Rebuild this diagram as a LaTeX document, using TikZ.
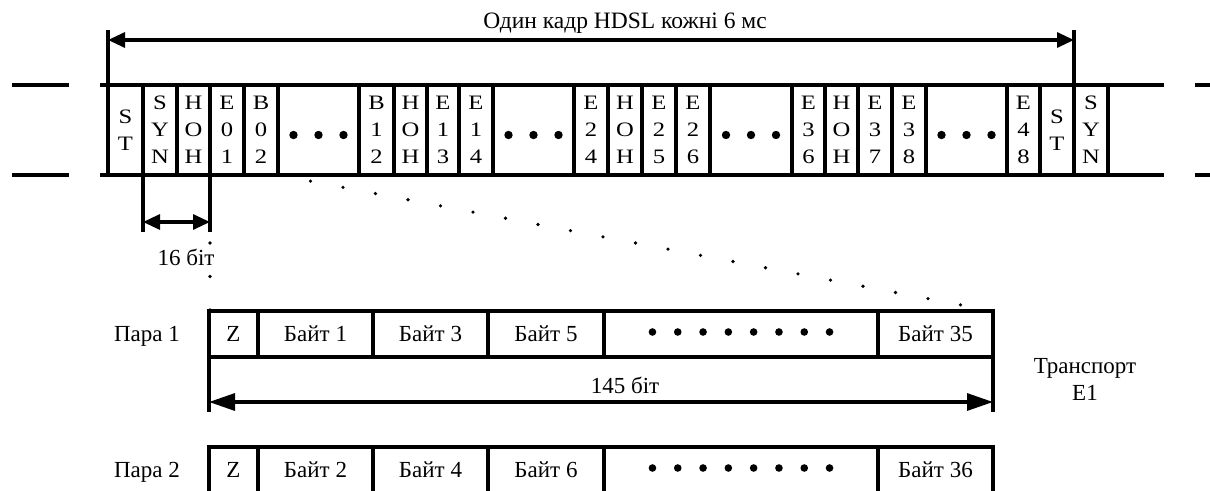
\documentclass[tikz,border=0pt]{standalone}
\usepackage{fontspec}
\setmainfont{Liberation Serif}
\newfontfamily\cellfont[FakeStretch=1.2]{Liberation Serif}
\usetikzlibrary{arrows.meta,calc}
\newcommand\mkcell[4]{\node[cellbox, minimum width={#3-#2}] (#1) at ({(#2+#3)/2},130) {#4};}
\newcommand\mkbyte[5]{\node[bytebox, minimum width={#3-#2}] (#1) at ({(#2+#3)/2},#4) {#5};}
\tikzset{
  thickline/.style={line width=3.2pt},
  cellbox/.style={draw, line width=3.2pt, inner sep=0pt, outer sep=0pt, minimum height=90, align=center,
    font=\cellfont\fontsize{20.5}{27}\selectfont},
  bytebox/.style={draw, line width=3.2pt, inner sep=0pt, outer sep=0pt, minimum height=46,
    font=\fontsize{23}{27}\selectfont},
  lbl/.style={inner sep=0pt, outer sep=0pt, font=\fontsize{23}{27}\selectfont},
  dimarrow/.style={line width=3.2pt, {Triangle[length=17pt,width=15pt]}-{Triangle[length=17pt,width=15pt]}},
  bigarrow/.style={line width=3.2pt, {Triangle[length=26pt,width=17pt]}-{Triangle[length=26pt,width=17pt]}},
  smalldot/.style={fill=black},
  bigdot/.style={fill=black}
}
\begin{document}
\begin{tikzpicture}[x=1pt,y=-1pt]
\useasboundingbox (0,0) rectangle (1210,490);
\clip (0,0) rectangle (1210,490);
% frame cells
\mkcell{c1}{108}{143}{S\\T}
\mkcell{c2}{143}{177}{S\\Y\\N}
\mkcell{c3}{177}{210}{H\\O\\H}
\mkcell{c4}{210}{244}{E\\0\\1}
\mkcell{c5}{244}{278}{B\\0\\2}
\mkcell{c6}{278}{359}{}
\mkcell{c7}{359}{394}{B\\1\\2}
\mkcell{c8}{394}{427}{H\\O\\H}
\mkcell{c9}{427}{459}{E\\1\\3}
\mkcell{c10}{459}{493}{E\\1\\4}
\mkcell{c11}{493}{574}{}
\mkcell{c12}{574}{608}{E\\2\\4}
\mkcell{c13}{608}{642}{H\\O\\H}
\mkcell{c14}{642}{676}{E\\2\\5}
\mkcell{c15}{676}{710}{E\\2\\6}
\mkcell{c16}{710}{792}{}
\mkcell{c17}{792}{825}{E\\3\\6}
\mkcell{c18}{825}{858}{H\\O\\H}
\mkcell{c19}{858}{892}{E\\3\\7}
\mkcell{c20}{892}{926}{E\\3\\8}
\mkcell{c21}{926}{1007}{}
\mkcell{c22}{1007}{1040}{E\\4\\8}
\mkcell{c23}{1040}{1074}{S\\T}
\mkcell{c24}{1074}{1108}{S\\Y\\N}
\foreach \c in {c6,c11,c16,c21}
  \foreach \d in {-25,0,25}
    \fill[bigdot] ([shift={(\d,5)}]\c.center) circle (4.2);
% line frame
\draw[thickline] (100,85) -- (1164,85);
\draw[thickline] (100,175) -- (1164,175);
\draw[thickline] (12,85) -- (69,85);
\draw[thickline] (12,175) -- (69,175);
\draw[thickline] (1195,85) -- (1220,85);
\draw[thickline] (1195,175) -- (1220,175);
% title arrow
\coordinate (t1) at (108,30);
\coordinate (t2) at (1074,30);
\coordinate (ta) at (108,40);
\coordinate (tb) at (1074,40);
\draw[thickline] (c1.north west) -- (t1);
\draw[thickline] (c24.north west) -- (t2);
\draw[dimarrow] (ta) -- (tb);
\node[lbl, anchor=base, font=\fontsize{23.5}{27}\selectfont] (title) at (625,28) {Один кадр HDSL кожні 6 мс};
% 16 bit
\coordinate (m1) at (143,232);
\coordinate (m2) at (210,232);
\coordinate (ma) at (143,222);
\coordinate (mb) at (210,222);
\draw[thickline] (c2.south west) -- (m1);
\draw[thickline] (c3.south east) -- (m2);
\draw[dimarrow] (ma) -- (mb);
\node[lbl, anchor=base] (bit16) at (186,265) {16 біт};
% pairs
\node[lbl, anchor=base] (p1) at (147,341) {Пара 1};
\node[lbl, anchor=base] (p2) at (147,477) {Пара 2};
\mkbyte{pa}{209}{258}{334}{Z}
\mkbyte{pb}{258}{373}{334}{Байт 1}
\mkbyte{pc}{373}{488}{334}{Байт 3}
\mkbyte{pd}{488}{604}{334}{Байт 5}
\mkbyte{pe}{604}{878}{334}{}
\mkbyte{pf}{878}{993}{334}{Байт 35}
\mkbyte{qa}{209}{258}{470}{Z}
\mkbyte{qb}{258}{373}{470}{Байт 2}
\mkbyte{qc}{373}{488}{470}{Байт 4}
\mkbyte{qd}{488}{604}{470}{Байт 6}
\mkbyte{qe}{604}{878}{470}{}
\mkbyte{qf}{878}{993}{470}{Байт 36}
\foreach \e in {pe,qe}
  \foreach \k in {0,...,7}
    \fill[bigdot] ([shift={({(\k-3.5)*25.3},-2)}]\e.center) circle (3.8);
% 145 bit
\coordinate (b1) at (209,412);
\coordinate (b2) at (993,412);
\coordinate (ba) at (209,402);
\coordinate (bb) at (993,402);
\draw[thickline] (pa.south west) -- (b1);
\draw[thickline] (pf.south east) -- (b2);
\draw[bigarrow] (ba) -- (bb);
\node[lbl, anchor=base] (bit145) at (625,393) {145 біт};
\node[lbl, align=center] (tr) at (1085,379) {Транспорт\\E1};
% dotted guides
\foreach \y in {243,276.5,310}
  \fill[smalldot] (210,\y) circle (1.8);
\foreach \i in {1,...,21}
  \fill[smalldot] ($(c5.south east)!\i/22!(pf.north east)$) circle (1.8);
\end{tikzpicture}
\end{document}
